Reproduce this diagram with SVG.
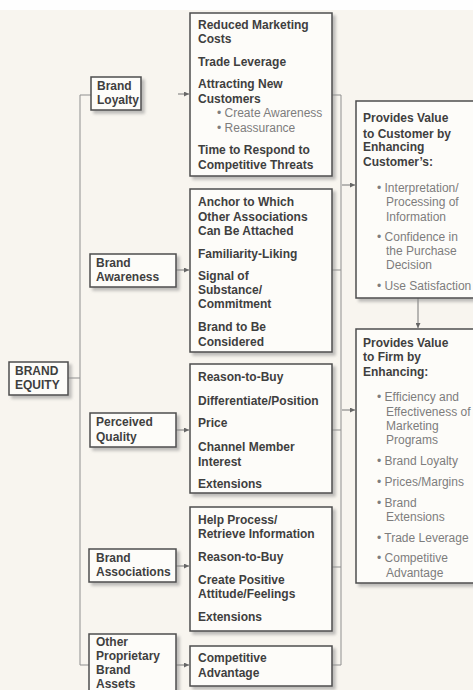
<svg xmlns="http://www.w3.org/2000/svg" width="473" height="690" viewBox="0 0 473 690">
<defs>
<filter id="sh" x="-10%" y="-10%" width="130%" height="130%">
<feDropShadow dx="3" dy="3" stdDeviation="1.5" flood-color="#8a8a8a" flood-opacity="0.55"/>
</filter>
<marker id="ah" viewBox="0 0 6 6" refX="6" refY="3" markerWidth="5" markerHeight="5" orient="auto" markerUnits="userSpaceOnUse">
<path d="M0,0 L6,3 L0,6 z" fill="#666"/>
</marker>
<style>
.box{fill:#fdfcf9;stroke:#4d4d4d;stroke-width:1.5;filter:url(#sh)}
.b{font-family:"Liberation Sans",Arial,sans-serif;font-weight:bold;font-size:12px;fill:#3f3f3f}
.r{font-family:"Liberation Sans",Arial,sans-serif;font-size:12px;fill:#7d7d7d}
.c{fill:none;stroke:#8f8f8f;stroke-width:1}
.a{fill:none;stroke:#777;stroke-width:1;marker-end:url(#ah)}
</style>
</defs>
<rect x="0" y="0" width="473" height="690" fill="#f8f5ef"/>
<rect x="0" y="0" width="473" height="10" fill="#fefefe"/>

<g id="connectors">
<path class="c" d="M68,378 H80"/>
<path class="c" d="M91,95 H80 V665 H89"/>
<path class="c" d="M332,95 H341 V665 H332"/>
<path class="c" d="M332,270 H341"/>
<path class="c" d="M332,430 H341"/>
<path class="c" d="M332,567 H341"/>
<path class="a" d="M178,94 H189"/>
<path class="a" d="M176,270 H189"/>
<path class="a" d="M176,430 H189"/>
<path class="a" d="M176,566 H189"/>
<path class="a" d="M176,665 H189"/>
<path class="a" d="M342,185 H355"/>
<path class="a" d="M342,410 H355"/>
<path class="a" d="M418,298 V328"/>
</g>

<g id="brand-equity">
<rect class="box" x="9" y="362" width="59" height="33"/>
<text class="b" x="15" y="375">BRAND</text>
<text class="b" x="15" y="389">EQUITY</text>
</g>

<g id="brand-loyalty">
<rect class="box" x="91" y="77" width="50" height="33"/>
<text class="b" x="97" y="90">Brand</text>
<text class="b" x="97" y="104">Loyalty</text>
</g>

<g id="brand-awareness">
<rect class="box" x="90" y="254" width="86" height="33"/>
<text class="b" x="96" y="267">Brand</text>
<text class="b" x="96" y="281">Awareness</text>
</g>

<g id="perceived-quality">
<rect class="box" x="90" y="413" width="86" height="34"/>
<text class="b" x="96" y="426">Perceived</text>
<text class="b" x="96" y="441">Quality</text>
</g>

<g id="brand-associations">
<rect class="box" x="89" y="549" width="87" height="33"/>
<text class="b" x="96" y="562">Brand</text>
<text class="b" x="96" y="576">Associations</text>
</g>

<g id="other-assets">
<rect class="box" x="89" y="634" width="87" height="62"/>
<text class="b" x="96" y="646">Other</text>
<text class="b" x="96" y="660">Proprietary</text>
<text class="b" x="96" y="674">Brand</text>
<text class="b" x="96" y="688">Assets</text>
</g>

<g id="loyalty-benefits">
<rect class="box" x="190" y="13" width="142" height="163"/>
<text class="b" x="198" y="29">Reduced Marketing</text>
<text class="b" x="198" y="43">Costs</text>
<text class="b" x="198" y="66">Trade Leverage</text>
<text class="b" x="198" y="88">Attracting New</text>
<text class="b" x="198" y="103">Customers</text>
<text class="r" x="217" y="117">• Create Awareness</text>
<text class="r" x="217" y="132">• Reassurance</text>
<text class="b" x="198" y="154">Time to Respond to</text>
<text class="b" x="198" y="169">Competitive Threats</text>
</g>

<g id="awareness-benefits">
<rect class="box" x="190" y="189" width="142" height="163"/>
<text class="b" x="198" y="206">Anchor to Which</text>
<text class="b" x="198" y="221">Other Associations</text>
<text class="b" x="198" y="235">Can Be Attached</text>
<text class="b" x="198" y="258">Familiarity-Liking</text>
<text class="b" x="198" y="280">Signal of</text>
<text class="b" x="198" y="294">Substance/</text>
<text class="b" x="198" y="308">Commitment</text>
<text class="b" x="198" y="331">Brand to Be</text>
<text class="b" x="198" y="346">Considered</text>
</g>

<g id="quality-benefits">
<rect class="box" x="190" y="364" width="142" height="129"/>
<text class="b" x="198" y="381">Reason-to-Buy</text>
<text class="b" x="198" y="405">Differentiate/Position</text>
<text class="b" x="198" y="427">Price</text>
<text class="b" x="198" y="451">Channel Member</text>
<text class="b" x="198" y="466">Interest</text>
<text class="b" x="198" y="488">Extensions</text>
</g>

<g id="associations-benefits">
<rect class="box" x="190" y="507" width="142" height="124"/>
<text class="b" x="198" y="524">Help Process/</text>
<text class="b" x="198" y="538">Retrieve Information</text>
<text class="b" x="198" y="561">Reason-to-Buy</text>
<text class="b" x="198" y="584">Create Positive</text>
<text class="b" x="198" y="598">Attitude/Feelings</text>
<text class="b" x="198" y="621">Extensions</text>
</g>

<g id="other-benefits">
<rect class="box" x="190" y="646" width="142" height="40"/>
<text class="b" x="198" y="662">Competitive</text>
<text class="b" x="198" y="677">Advantage</text>
</g>

<g id="value-customer">
<rect class="box" x="356" y="101" width="124" height="197"/>
<text class="b" x="363" y="122">Provides Value</text>
<text class="b" x="363" y="138">to Customer by</text>
<text class="b" x="363" y="151">Enhancing</text>
<text class="b" x="363" y="166">Customer’s:</text>
<text class="r" x="377" y="192">• Interpretation/</text>
<text class="r" x="386" y="206">Processing of</text>
<text class="r" x="386" y="221">Information</text>
<text class="r" x="377" y="241">• Confidence in</text>
<text class="r" x="386" y="255">the Purchase</text>
<text class="r" x="386" y="269">Decision</text>
<text class="r" x="377" y="290">• Use Satisfaction</text>
</g>

<g id="value-firm">
<rect class="box" x="356" y="329" width="124" height="254"/>
<text class="b" x="363" y="347">Provides Value</text>
<text class="b" x="363" y="361">to Firm by</text>
<text class="b" x="363" y="376">Enhancing:</text>
<text class="r" x="377" y="401">• Efficiency and</text>
<text class="r" x="386" y="416">Effectiveness of</text>
<text class="r" x="386" y="430">Marketing</text>
<text class="r" x="386" y="444">Programs</text>
<text class="r" x="377" y="465">• Brand Loyalty</text>
<text class="r" x="377" y="486">• Prices/Margins</text>
<text class="r" x="377" y="507">• Brand</text>
<text class="r" x="386" y="521">Extensions</text>
<text class="r" x="377" y="542">• Trade Leverage</text>
<text class="r" x="377" y="562">• Competitive</text>
<text class="r" x="386" y="577">Advantage</text>
</g>
</svg>
